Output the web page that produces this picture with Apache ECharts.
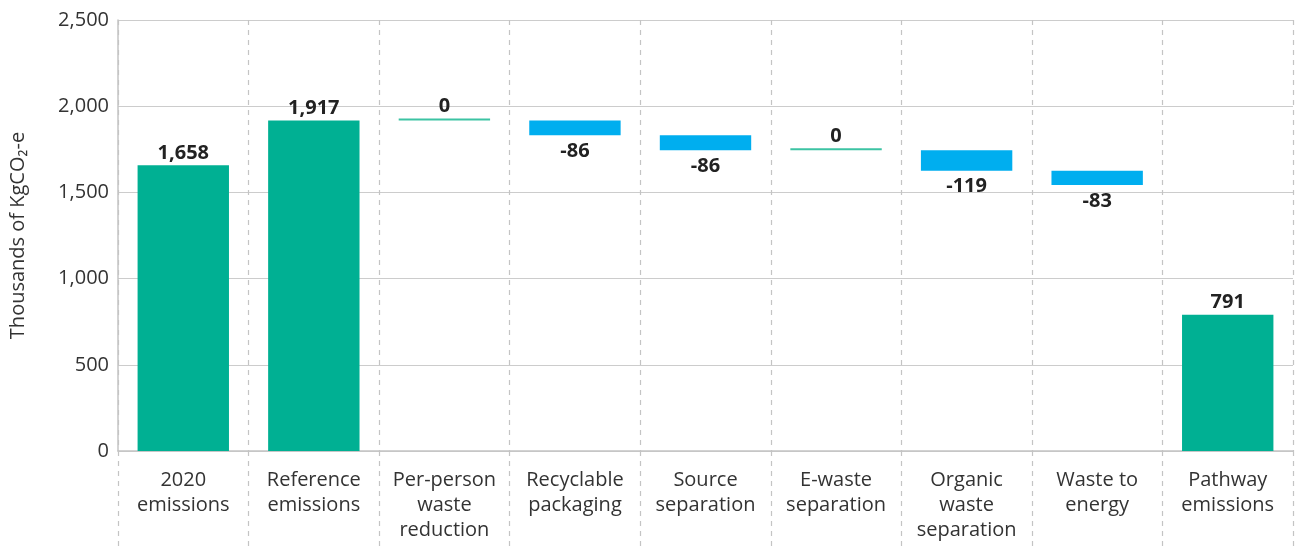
<!DOCTYPE html>
<html>
<head>
<meta charset="utf-8">
<script src="https://cdn.jsdelivr.net/npm/echarts@6/dist/echarts.min.js"></script>
<style>
  html, body { margin: 0; padding: 0; background: #fff; }
  #chart { width: 1295px; height: 548px; }
</style>
</head>
<body>
<div id="chart"></div>
<script>
// data
const categories = [
  '2020\nemissions', 'Reference\nemissions', 'Per-person\nwaste\nreduction',
  'Recyclable\npackaging', 'Source\nseparation', 'E-waste\nseparation',
  'Organic\nwaste\nseparation', 'Waste to\nenergy', 'Pathway\nemissions'
]
const values = [1658, 1917, 0, -86, -86, 0, -119, -83, 791]
const isTotal = [true, true, false, false, false, false, false, false, true]
const yTicks = [0, 500, 1000, 1500, 2000, 2500]

const green = '#00b093'
const blue = '#00aeef'
const font = 'Open Sans'

// waterfall: invisible base + visible step
let running = 0
const baseData = []
const stepData = []
values.forEach((v, i) => {
  if (isTotal[i]) {
    running = v
    baseData.push(0)
    stepData.push({ value: v, raw: v, itemStyle: { color: green },
      label: { position: 'top', distance: 2 } })
  } else {
    const top = running
    running = running + v
    baseData.push(Math.min(top, running))
    stepData.push({ value: Math.abs(v), raw: v,
      itemStyle: { color: v === 0 ? '#3cc3a3' : blue },
      label: v === 0 ? { position: 'top', distance: 2 } : { position: 'bottom', distance: 6 } })
  }
})

const chart = echarts.init(document.getElementById('chart'))
chart.setOption({
  animation: false,
  grid: { left: 118, right: 2, top: 20, bottom: 97, outerBoundsMode: 'none', containLabel: false },
  xAxis: {
    type: 'category',
    data: categories,
    axisLine: { lineStyle: { color: '#c4c4c4', width: 1.5 } },
    axisTick: {
      show: true, length: 97, interval: 0,
      lineStyle: { color: '#c4c4c4', type: [5, 5], width: 1.2 }
    },
    splitLine: {
      show: true, interval: 0,
      lineStyle: { color: '#c4c4c4', type: [5, 5], width: 1.2 }
    },
    axisLabel: {
      interval: 0, margin: 17, color: '#333', fontSize: 20,
      lineHeight: 25, fontFamily: font
    }
  },
  yAxis: {
    type: 'value',
    min: yTicks[0],
    max: yTicks[yTicks.length - 1],
    interval: 500,
    name: 'Thousands of KgCO\u2082-e',
    nameLocation: 'middle',
    nameGap: 90,
    nameTextStyle: { color: '#333', fontSize: 20, fontFamily: font },
    axisLine: { show: true, lineStyle: { color: '#c4c4c4', width: 1.5 } },
    axisTick: { show: false },
    axisLabel: {
      margin: 9, color: '#333', fontSize: 20, fontFamily: font,
      formatter: v => v.toLocaleString('en-US')
    },
    splitLine: { lineStyle: { color: '#cccccc', width: 1.2 } }
  },
  series: [
    {
      name: 'base', type: 'bar', stack: 'w', data: baseData,
      barWidth: '70%', silent: true,
      itemStyle: { color: 'transparent' }
    },
    {
      name: 'step', type: 'bar', stack: 'w', data: stepData,
      barWidth: '70%', barMinHeight: 2,
      label: {
        show: true, color: '#222', fontSize: 20,
        fontWeight: 'bold', fontFamily: font,
        formatter: p => p.data.raw.toLocaleString('en-US')
      }
    }
  ]
})
</script>
</body>
</html>
